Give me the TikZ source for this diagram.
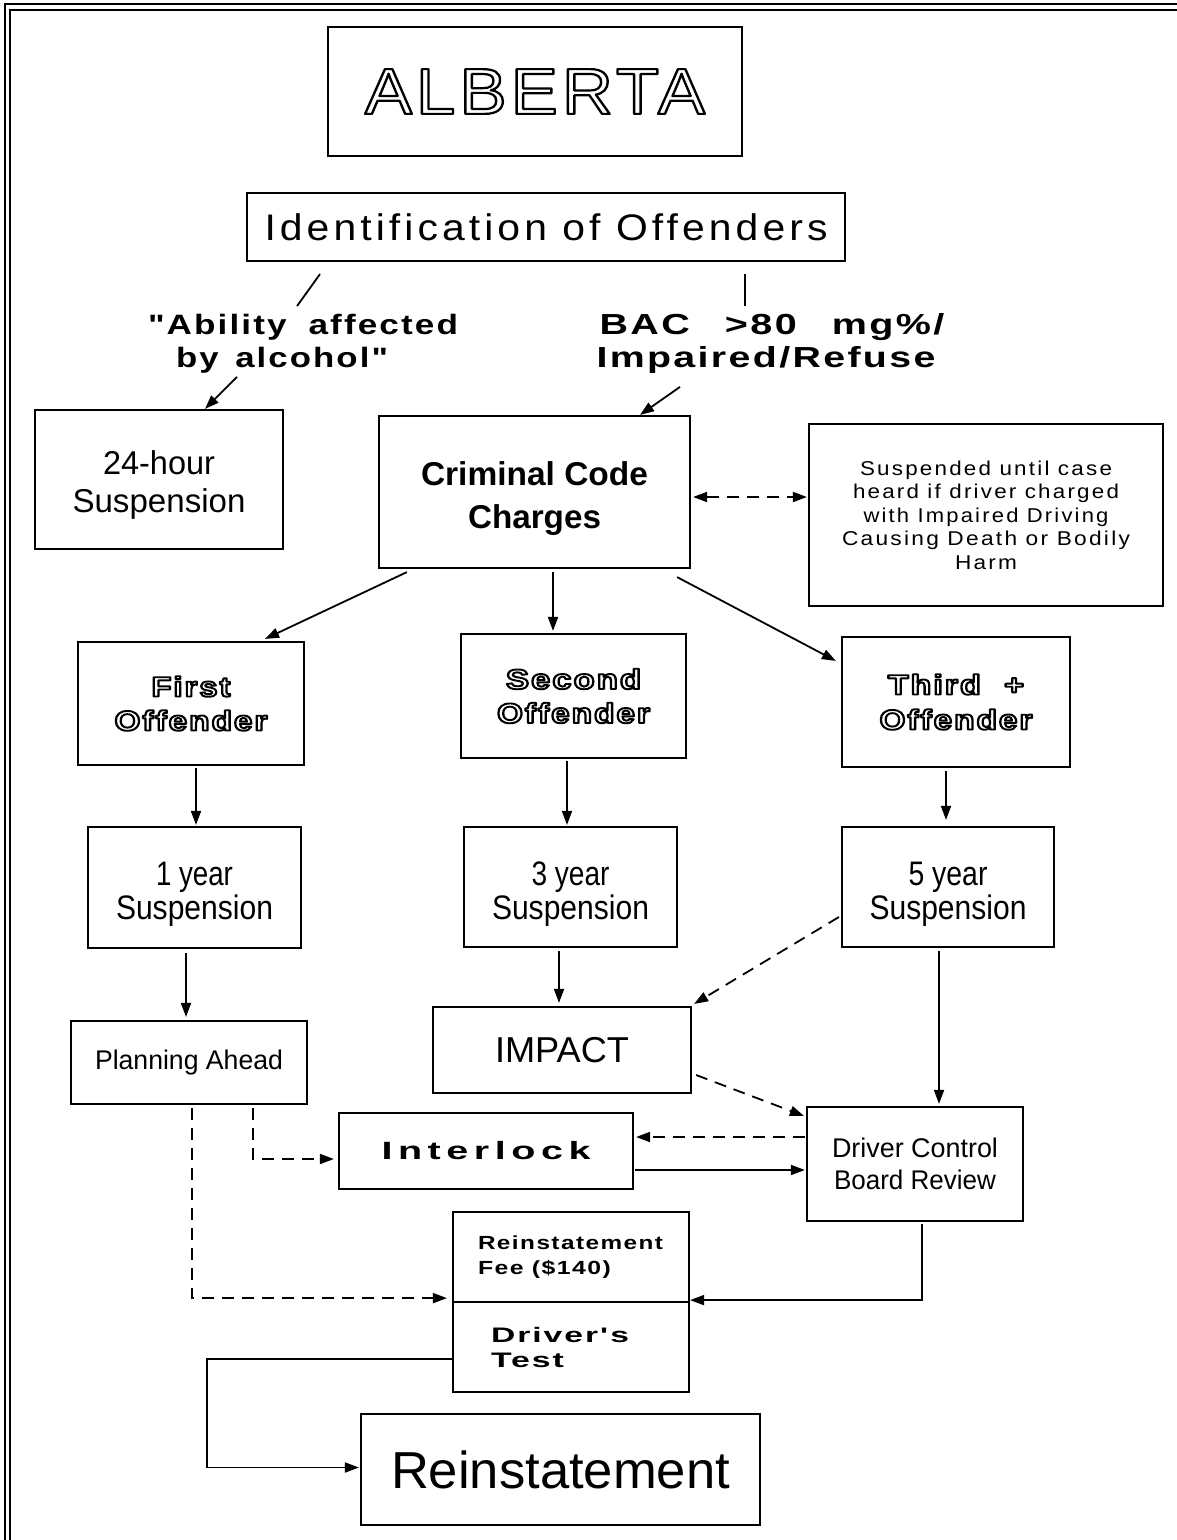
\documentclass[tikz,border=0pt]{standalone}
\usepackage{fontspec}
\usepackage{graphicx}
\usetikzlibrary{arrows.meta,calc}
\setmainfont{Liberation Sans}
\newfontfamily\fReg{Liberation Sans}
\newfontfamily\fSp[LetterSpace=10]{Liberation Sans}
\newfontfamily\fExt[LetterSpace=6]{Liberation Sans}
\newfontfamily\fWide[LetterSpace=14]{Liberation Sans}
% horizontal fit of a text line to a given width, height unchanged
\newsavebox\fwbox
\newcommand\fw[2]{\sbox\fwbox{#2}\pgfmathsetmacro\fwscale{#1/\wd\fwbox}\scalebox{\fwscale}[1]{\usebox\fwbox}}
% hollow lettering: glyphs stroked, not filled
\newcommand\hollow[2][1.9]{\special{pdf:literal direct #1 w 1 j 1 Tr}#2\special{pdf:literal direct 0 Tr}}
\begin{document}
\begin{tikzpicture}[x=1pt,y=-1pt,
  box/.style={draw, line width=2.2pt, inner sep=0pt, align=center},
  lab/.style={inner sep=0pt, align=center},
  arr/.style={line width=1.8pt, -{Triangle[length=14pt,width=10pt]}},
  arrs/.style={line width=1.8pt, {Triangle[length=14pt,width=10pt]}-{Triangle[length=14pt,width=10pt]}},
  dashln/.style={dash pattern=on 12pt off 8pt},
  plain/.style={line width=1.8pt}]

\useasboundingbox (0,0) rectangle (1177,1540);

% double frame on top and left
\draw[line width=2pt] (4.5,1540) -- (4.5,4) -- (1177,4);
\draw[line width=2.7pt] (10,1540) -- (10,10) -- (1177,10);

% title and identification
\node[box, minimum width=414pt, minimum height=129pt,
      font=\fontsize{65}{70}\selectfont\fExt] (alberta) at (535,91.5)
      {\fw{340}{\hollow[2.2]{ALBERTA}}};
\node[box, minimum width=598pt, minimum height=68pt,
      font=\fontsize{37}{40}\selectfont\fSp] (ident) at (546,227)
      {\fw{563}{Identification of Offenders}};

% branch labels
\node[lab, font=\fontsize{28}{30}\selectfont\fExt\bfseries] (abil1) at (303,327) {\fw{310}{"Ability\hspace{8pt} affected}};
\node[lab, font=\fontsize{28}{30}\selectfont\fExt\bfseries] (abil2) at (282,360) {\fw{212}{by\hspace{4pt} alcohol"}};
\node[lab, font=\fontsize{29}{30}\selectfont\fExt\bfseries] (bac1) at (772,327) {\fw{345}{BAC\hspace{16pt} >80\hspace{16pt} mg\%/}};
\node[lab, font=\fontsize{29}{30}\selectfont\fExt\bfseries] (bac2) at (766,360) {\fw{339}{Impaired/Refuse}};

% second row
\node[box, minimum width=248pt, minimum height=139pt,
      font=\fontsize{33}{38}\selectfont\fReg] (h24) at (159,479.5)
      {\rule{0pt}{34pt}\fw{112}{24-hour}\\\fw{173}{Suspension}};
\node[box, minimum width=311pt, minimum height=152pt,
      font=\fontsize{33}{43}\selectfont\fReg\bfseries] (crim) at (534.5,492)
      {\rule{0pt}{36pt}\fw{227}{Criminal Code}\\\fw{133}{Charges}};
\node[box, minimum width=354pt, minimum height=182pt,
      font=\fontsize{20}{23.5}\selectfont\fSp] (susp) at (986,515)
      {\fw{252}{Suspended until case}\\\fw{266}{heard if driver charged}\\
       \fw{245}{with Impaired Driving}\\\fw{288}{Causing Death or Bodily}\\\fw{62}{Harm}};

% offender boxes
\node[box, minimum width=226pt, minimum height=123pt,
      font=\fontsize{28}{34}\selectfont\fExt\bfseries] (first) at (191,703.5)
      {\fw{79}{\hollow{First}}\\\fw{153}{\hollow{Offender}}};
\node[box, minimum width=225pt, minimum height=124pt,
      font=\fontsize{28}{34}\selectfont\fExt\bfseries] (second) at (573.5,696)
      {\fw{135}{\hollow{Second}}\\\fw{153}{\hollow{Offender}}};
\node[box, minimum width=228pt, minimum height=130pt,
      font=\fontsize{28}{35}\selectfont\fExt\bfseries] (third) at (956,702)
      {\fw{136}{\hollow{Third\hspace{10pt} +}}\\\fw{153}{\hollow{Offender}}};

% suspension periods
\node[box, minimum width=213pt, minimum height=121pt,
      font=\fontsize{34}{34}\selectfont\fReg] (y1) at (194.5,887.5)
      {\rule{0pt}{38pt}\fw{77}{1 year}\\\fw{157}{Suspension}};
\node[box, minimum width=213pt, minimum height=120pt,
      font=\fontsize{34}{34}\selectfont\fReg] (y3) at (570.5,887)
      {\rule{0pt}{38pt}\fw{78}{3 year}\\\fw{157}{Suspension}};
\node[box, minimum width=212pt, minimum height=120pt,
      font=\fontsize{34}{34}\selectfont\fReg] (y5) at (948,887)
      {\rule{0pt}{38pt}\fw{79}{5 year}\\\fw{157}{Suspension}};

% programmes and review
\node[box, minimum width=236pt, minimum height=83pt,
      font=\fontsize{27}{30}\selectfont\fReg] (plan) at (189,1062.5)
      {\fw{188}{Planning Ahead}};
\node[box, minimum width=258pt, minimum height=86pt,
      font=\fontsize{36}{40}\selectfont\fReg] (impact) at (562,1050)
      {\fw{134}{IMPACT}};
\node[box, minimum width=294pt, minimum height=76pt,
      font=\fontsize{25}{30}\selectfont\fWide\bfseries] (inter) at (486,1151)
      {\fw{209}{Interlock}};
\node[box, minimum width=216pt, minimum height=114pt,
      font=\fontsize{27}{32}\selectfont\fReg] (dcb) at (915,1164)
      {\fw{166}{Driver Control}\\\fw{162}{Board Review}};

% reinstatement requirements
\node[box, minimum width=236pt, minimum height=90pt, text width=186pt, align=left,
      font=\fontsize{19}{25}\selectfont\fExt\bfseries] (fee) at (571,1257)
      {\fw{185}{Reinstatement}\\\fw{133}{Fee (\$140)}};
\node[box, minimum width=236pt, minimum height=90pt, text width=160pt, align=left,
      font=\fontsize{21}{25}\selectfont\fExt\bfseries] (test) at (571,1347)
      {\fw{138}{Driver's}\\\fw{73}{Test}};
\node[box, minimum width=399pt, minimum height=111pt,
      font=\fontsize{52}{56}\selectfont\fReg] (reinst) at (560.5,1469.5)
      {\fw{339}{Reinstatement}};

% connectors
\draw[plain] ($(ident.south)+(-226,12)$) -- ($(ident.south)+(-249,44)$);
\draw[arr] ($(h24.north)+(78,-32)$) -- ($(h24.north)+(46,0)$);
\draw[plain] ($(ident.south)+(199,12)$) -- ($(ident.south)+(199,44)$);
\draw[arr] ($(crim.north)+(145.5,-28)$) -- ($(crim.north)+(105.5,0)$);
\draw[arrs, dashln] ($(crim.east)+(2,5)$) -- ($(susp.west |- crim.east)+(-1,5)$);

\draw[arr] ($(crim.south west)+(29,3)$) -- ($(first.north)+(74,-2)$);
\draw[arr] ($(crim.south)+(18.5,3)$) -- ($(second.north)+(-20.5,-2)$);
\draw[arr] ($(crim.south east)+(-14,8)$) -- ($(third.north west)+(-5,25)$);

\draw[arr] ($(first.south)+(5,2)$) -- ($(y1.north)+(1.5,-1)$);
\draw[arr] ($(second.south)+(-6.5,2)$) -- ($(y3.north)+(-3.5,-1)$);
\draw[arr] ($(third.south)+(-10,3)$) -- ($(y5.north)+(-2,-6)$);

\draw[arr] ($(y1.south)+(-8.5,4)$) -- ($(plan.north)+(-3,-3)$);
\draw[arr] ($(y3.south)+(-11.5,3)$) -- ($(impact.north)+(-3,-3)$);
\draw[arr] ($(y5.south)+(-9,3)$) -- ($(dcb.north)+(24,-2)$);
\draw[arr, dashln] ($(y5.west)+(-2,30)$) -- ($(impact.north east)+(2,-2)$);

\draw[arr, dashln] ($(impact.east)+(4,25)$) -- ($(dcb.north west)+(-2,10)$);
\draw[arr, dashln] ($(dcb.west)+(-1,-27)$) -- ($(inter.east |- dcb.west)+(2,-27)$);
\draw[arr] ($(inter.east)+(1,19)$) -- ($(dcb.west |- inter.east)+(-1,19)$);
\draw[arr, dashln] ($(plan.south)+(64,3)$) |- ($(inter.west)+(-4,8)$);
\draw[arr, dashln] ($(plan.south)+(3,3)$) |- ($(fee.south west)+(-5,-5)$);
\draw[arr] ($(dcb.south)+(7,2)$) |- ($(fee.south east)+(0,-3)$);
\draw[arr] ($(test.west)+(0,12)$) -- ($(test.west)+(-245,12)$) |- ($(reinst.west)+(-1,-2)$);
\end{tikzpicture}
\end{document}
